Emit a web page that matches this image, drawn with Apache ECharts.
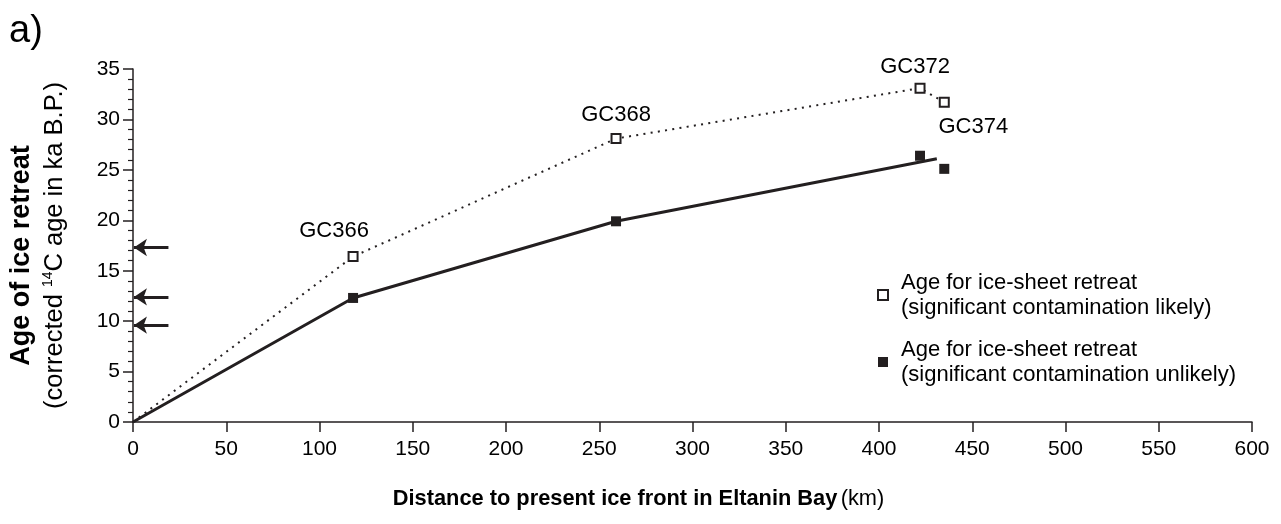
<!DOCTYPE html>
<html>
<head>
<meta charset="utf-8">
<script src="https://cdn.jsdelivr.net/npm/echarts@6/dist/echarts.min.js"></script>
<style>
html,body{margin:0;padding:0;background:#fff;}
#chart{width:1281px;height:524px;}
</style>
</head>
<body>
<div id="chart"></div>
<script>
// ---- data ----
const coreNames = ['GC366', 'GC368', 'GC372', 'GC374'];
const coreDistanceKm = [118, 259, 422, 435];
const ageContaminationLikely = [16.4, 28.1, 33.1, 31.7];
const ageContaminationUnlikely = [12.3, 19.9, 26.4, 25.1];
const dottedLineKm = [0, 118, 259, 422, 435];
const dottedLineAge = [0, 16.4, 28.1, 33.1, 31.7];
const solidLineKm = [0, 118, 259, 431];
const solidLineAge = [0, 12.3, 19.9, 26.1];
const arrowAges = [17.3, 12.4, 9.6];
const arrowFromKm = 19;
const arrowToKm = 0.5;
const xMin = 0, xMax = 600, xStep = 50;
const yMin = 0, yMax = 35, yStep = 5;
const legendNames = [
  'Age for ice-sheet retreat\n(significant contamination likely)',
  'Age for ice-sheet retreat\n(significant contamination unlikely)'
];

// ---- styles / positions ----
const INK = '#231f20';
const FONT = '"Liberation Sans", Arial, Helvetica, sans-serif';
const labelOffsets = [[-19, -26], [0, -24], [-5, -21], [29, 25]];

const chart = echarts.init(document.getElementById('chart'), null, {renderer: 'canvas'});

const zip = (xs, ys) => xs.map((x, i) => [x, ys[i]]);

const option = {
  animation: false,
  backgroundColor: '#fff',
  textStyle: {fontFamily: FONT, color: '#000'},
  title: {
    text: 'a)', left: 9, top: 13, padding: 0,
    textStyle: {fontFamily: FONT, fontSize: 38, fontWeight: 'normal', color: '#000'}
  },
  grid: {left: 132, right: 29, top: 69, bottom: 102, containLabel: false},
  legend: {
    orient: 'vertical', left: 872, top: 265,
    itemWidth: 10, itemHeight: 10, itemGap: 17,
    data: legendNames,
    textStyle: {fontFamily: FONT, fontSize: 22, lineHeight: 25, color: '#000', padding: [0, 0, 0, 8]}
  },
  xAxis: {
    type: 'value', min: xMin, max: xMax, interval: xStep,
    name: '{b|Distance to present ice front in Eltanin Bay} {r|(km)}',
    nameLocation: 'middle', nameGap: 66,
    nameTextStyle: {
      padding: [0, 108, 0, 0],
      rich: {
        b: {fontFamily: FONT, fontSize: 21.8, fontWeight: 'bold', color: '#000'},
        r: {fontFamily: FONT, fontSize: 21.8, color: '#000'}
      }
    },
    axisLine: {show: true, onZero: false, lineStyle: {color: INK, width: 1.5}},
    axisTick: {show: true, length: 10, lineStyle: {color: INK, width: 1.5}},
    axisLabel: {fontFamily: FONT, fontSize: 21, color: '#000', margin: 17},
    splitLine: {show: false}
  },
  yAxis: {
    type: 'value', min: yMin, max: yMax, interval: yStep,
    name: '{b|Age of ice retreat}\n{r|(corrected }{s|14}{r|C age in ka B.P.)}',
    nameLocation: 'middle', nameRotate: 90, nameGap: 62,
    nameTextStyle: {
      rich: {
        b: {fontFamily: FONT, fontSize: 27, fontWeight: 'bold', color: '#000', lineHeight: 33, padding: [0, 20, 0, 0]},
        r: {fontFamily: FONT, fontSize: 25.5, color: '#000', lineHeight: 33},
        s: {fontFamily: FONT, fontSize: 14, color: '#000', verticalAlign: 'top', padding: [3, 0, 0, 0]}
      }
    },
    axisLine: {show: true, onZero: false, lineStyle: {color: INK, width: 1.5}},
    axisTick: {show: true, length: 10, lineStyle: {color: INK, width: 1.5}},
    minorTick: {show: true, splitNumber: 5, length: 5, lineStyle: {color: INK, width: 1.2}},
    axisLabel: {fontFamily: FONT, fontSize: 21, color: '#000', margin: 13},
    splitLine: {show: false}
  },
  series: [
    {
      type: 'line', name: 'dotted trend', data: zip(dottedLineKm, dottedLineAge),
      showSymbol: false, silent: true, z: 2,
      lineStyle: {color: INK, width: 2, type: [2, 5.3]}
    },
    {
      type: 'line', name: 'solid trend', data: zip(solidLineKm, solidLineAge),
      showSymbol: false, silent: true, z: 2,
      lineStyle: {color: INK, width: 3},
      markLine: {
        silent: true, symbol: ['none', 'arrow'], symbolSize: 13,
        label: {show: false},
        lineStyle: {color: INK, width: 3, type: 'solid'},
        data: arrowAges.map(a => [{coord: [arrowFromKm, a]}, {coord: [arrowToKm, a]}])
      }
    },
    {
      type: 'scatter', name: legendNames[0],
      symbol: 'rect', symbolSize: 9,
      itemStyle: {color: '#fff', borderColor: INK, borderWidth: 2, opacity: 1},
      z: 5,
      label: {
        show: true, position: 'inside', formatter: p => p.name,
        fontFamily: FONT, fontSize: 22, color: '#000'
      },
      data: coreDistanceKm.map((x, i) => ({
        name: coreNames[i], value: [x, ageContaminationLikely[i]],
        label: {offset: labelOffsets[i]}
      }))
    },
    {
      type: 'scatter', name: legendNames[1],
      symbol: 'rect', symbolSize: 10,
      itemStyle: {color: INK, borderColor: INK, borderWidth: 0, opacity: 1},
      z: 5,
      data: zip(coreDistanceKm, ageContaminationUnlikely)
    }
  ]
};
chart.setOption(option);
</script>
</body>
</html>
